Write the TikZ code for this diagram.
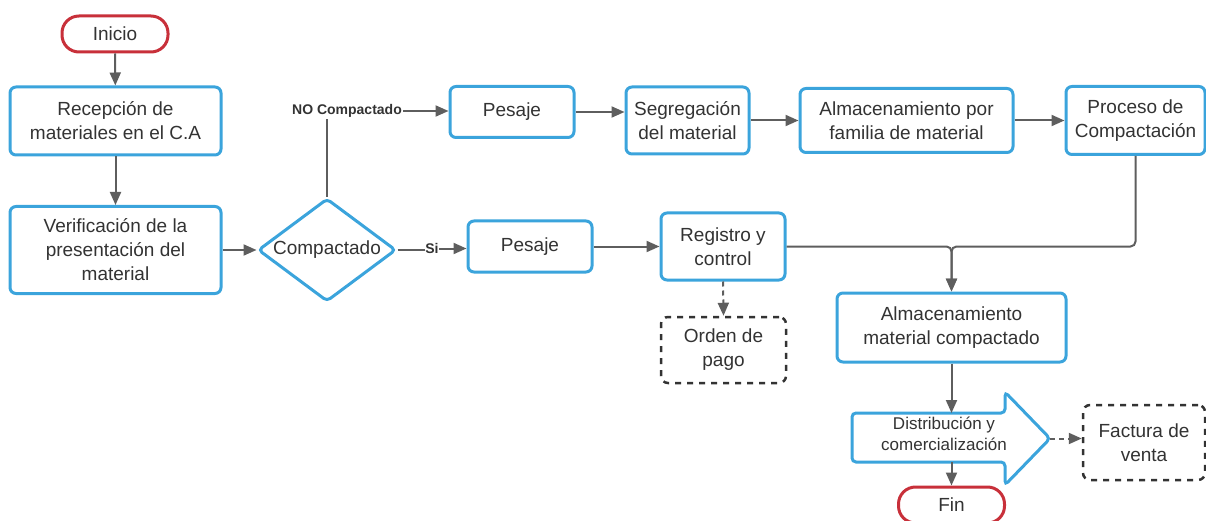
\documentclass[tikz,border=0pt]{standalone}
\usepackage{fontspec}
\setmainfont{Liberation Sans}
\usetikzlibrary{arrows.meta,shapes.geometric}
\definecolor{flowblue}{HTML}{3BA4DC}
\definecolor{flowred}{HTML}{C8303A}
\definecolor{linegray}{HTML}{5E5E5E}
\definecolor{txt}{HTML}{333333}
\definecolor{dashdark}{HTML}{333333}
\begin{document}
\begin{tikzpicture}[x=1pt,y=-1pt,
  every node/.style={text=txt, align=center, inner sep=0pt},
  box/.style={draw=flowblue, line width=3pt, rounded corners=6pt, fill=white,
    font=\fontsize{19}{24}\selectfont},
  terminal/.style={draw=flowred, line width=3pt, rounded corners=17pt, fill=white,
    minimum width=106pt, minimum height=36pt, font=\fontsize{19}{24}\selectfont},
  decision/.style={diamond, shape aspect=1.34, draw=flowblue, line width=3pt,
    rounded corners=4pt, fill=white, minimum width=138pt, minimum height=103pt,
    font=\fontsize{19}{24}\selectfont},
  docbox/.style={draw=dashdark, line width=2.5pt, dash pattern=on 6pt off 6pt,
    rounded corners=7pt, fill=white, font=\fontsize{19}{24}\selectfont},
  lbl/.style={fill=white, inner sep=1pt, font=\bfseries\fontsize{14}{16}\selectfont},
  conn/.style={draw=linegray, line width=2pt, -{Triangle[length=13pt,width=11pt]}},
  plain/.style={draw=linegray, line width=2pt},
  dconn/.style={draw=linegray, line width=2pt, dash pattern=on 5pt off 4pt,
    -{Triangle[length=13pt,width=11pt]}}
]
\useasboundingbox (0,0) rectangle (1206,521);

% left column
\node[terminal] (ini) at (115,34) {Inicio};
\node[box, minimum width=211pt, minimum height=68pt] (rec) at (115.5,121) {Recepción de\\materiales en el C.A};
\node[box, minimum width=211pt, minimum height=87pt] (ver) at (115.5,250) {Verificación de la\\presentación del\\material};
\node[decision] (dec) at (327,250) {Compactado};

% upper branch
\node[lbl] (nolbl) at (347,111) {NO Compactado};
\node[box, minimum width=124pt, minimum height=51pt] (p1) at (512,112) {Pesaje};
\node[box, minimum width=123pt, minimum height=67pt] (seg) at (687.5,120.5) {Segregación\\del material};
\node[box, minimum width=213pt, minimum height=64pt] (alm) at (906.5,120.5) {Almacenamiento por\\familia de material};
\node[box, minimum width=139pt, minimum height=68pt] (proc) at (1135.5,120.5) {Proceso de\\Compactación};

% lower branch
\node[lbl, inner sep=0.5pt] (si) at (432,248.5) {Si};
\node[box, minimum width=124pt, minimum height=51pt] (p2) at (530,246.5) {Pesaje};
\node[box, minimum width=124pt, minimum height=67pt] (reg) at (723,246.5) {Registro y\\control};
\node[docbox, minimum width=125pt, minimum height=66pt] (ord) at (723.5,350) {Orden de\\pago};
\node[box, minimum width=229pt, minimum height=69pt] (acomp) at (951.5,327.5) {Almacenamiento\\material compactado};

% distribution arrow shape
\coordinate (dtop) at (951.5,413);
\coordinate (dbot) at (951.5,462);
\coordinate (dtip) at (1050,438.5);
\draw[draw=flowblue, line width=3pt, fill=white, rounded corners=4pt]
  (852,413) -- (1005,413) -- (1005,392) -- (dtip) -- (1005,485)
  -- (1005,462) -- (852,462) -- cycle;
\node[font=\fontsize{17}{21}\selectfont] (dist) at (944,433.5) {Distribución y\\comercialización};
\node[docbox, minimum width=122pt, minimum height=75pt] (fac) at (1144,442.5) {Factura de\\venta};
\node[terminal] (fin) at (951.5,505) {Fin};

% connectors
\draw[conn] (ini) -- (rec);
\draw[conn] (rec) -- (ver);
\draw[conn] (ver.east) -- (ver.east -| dec.west);
\draw[plain] (dec.north) -- (dec.north |- nolbl.south);
\draw[conn] (nolbl.east) -- (nolbl.east -| p1.west);
\draw[conn] (p1.east) -- (p1.east -| seg.west);
\draw[conn] (seg.east) -- (seg.east -| alm.west);
\draw[conn] (alm.east) -- (alm.east -| proc.west);
\coordinate (j) at (acomp.north |- reg.east);
\draw[conn, rounded corners=5pt] (proc.south) |- (j) -- (acomp.north);
\draw[conn, rounded corners=5pt] (reg.east) -| (acomp.north);
\draw[plain] (dec.east) -- (dec.east -| si.west);
\draw[conn] (si.east) -- (si.east -| p2.west);
\draw[conn] (p2.east) -- (p2.east -| reg.west);
\draw[dconn] (reg.south) -- (ord.north);
\draw[conn] (acomp.south) -- (dtop);
\draw[conn] (dbot) -- (fin.north);
\draw[dconn] (dtip) -- (dtip -| fac.west);
\end{tikzpicture}
\end{document}
